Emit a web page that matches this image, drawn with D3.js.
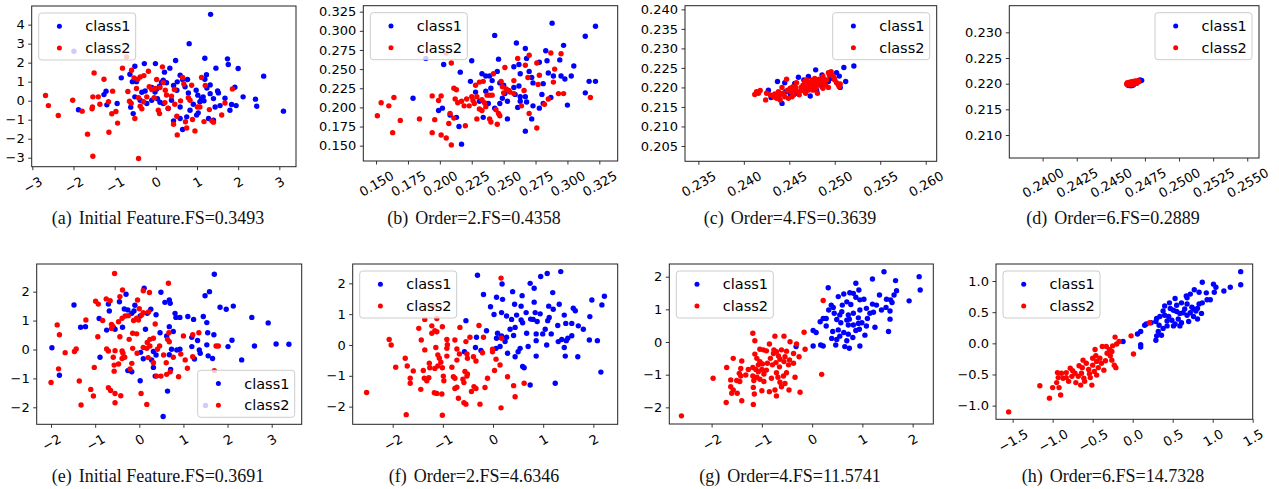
<!DOCTYPE html>
<html>
<head>
<meta charset="utf-8">
<script src="https://cdn.jsdelivr.net/npm/d3@7"></script>
<style>
  body { margin: 0; background: #fff; }
  svg { display: block; }
  .caption { font-family: "Liberation Serif", "DejaVu Serif", serif; font-size: 18px; fill: #111; }
  .legend text { font-family: "DejaVu Sans", sans-serif; font-size: 14.5px; fill: #000; }
</style>
</head>
<body>
<svg id="chart" width="1279" height="489"></svg>
<script>
// Valores leídos a ojo de la figura original (8 dispersiones, dos clases cada una).
const captions = [
  'Initial Feature.FS=0.3493', 'Order=2.FS=0.4358', 'Order=4.FS=0.3639', 'Order=6.FS=0.2889',
  'Initial Feature.FS=0.3691', 'Order=2.FS=4.6346', 'Order=4.FS=11.5741', 'Order=6.FS=14.7328'
];
const panelLetters = ['a', 'b', 'c', 'd', 'e', 'f', 'g', 'h'];
const legendLabels = ['class1', 'class2'];

// (a)
const aXDomain = [-3.016, 3.405];
const aYDomain = [-3.473, 4.98];
const aXTicks = [-3, -2, -1, 0, 1, 2, 3];
const aYTicks = [-3, -2, -1, 0, 1, 2, 3, 4];
const aClass1 = [[1.33,4.54],[0.81,3.0],[1.19,2.23],[1.74,2.2],[1.76,1.9],[2.0,1.69],[1.46,1.71],[0.48,2.11],[-0.28,1.95],[-0.01,1.95],[-0.51,1.81],[0.34,1.71],[2.62,1.29],[-0.84,1.2],[-0.63,1.39],[-0.57,1.0],[-0.47,1.0],[0.21,1.5],[0.59,1.34],[0.77,1.11],[1.23,1.36],[1.19,1.13],[1.32,0.83],[1.24,0.67],[1.5,0.51],[1.52,0.41],[1.92,0.71],[1.68,0.13],[2.12,0.2],[2.42,0.08],[2.45,-0.29],[3.1,-0.55],[-1.21,0.5],[-1.26,0.32],[-1.88,-0.48],[-0.94,-0.15],[-1.19,-0.22],[-0.61,-0.34],[-0.51,0.2],[-0.34,0.44],[-0.26,0.51],[-0.1,0.69],[-0.02,0.46],[0.02,0.62],[0.09,0.76],[0.14,0.97],[0.18,1.08],[0.26,0.94],[0.43,0.8],[0.52,0.99],[0.65,1.11],[0.04,0.1],[0.1,-0.08],[0.38,0.02],[0.51,0.55],[0.71,0.73],[0.79,0.41],[0.98,0.55],[1.02,0.29],[1.11,0.11],[1.07,-0.06],[1.17,-0.01],[0.91,-0.19],[0.83,-0.5],[1.03,-0.64],[0.99,-0.76],[0.43,-1.06],[0.59,-0.94],[0.75,-0.85],[0.65,-1.52],[1.4,-1.03],[1.28,-0.94],[1.44,-0.33],[1.56,-0.26],[1.8,-0.5],[1.84,-0.2],[1.95,-0.26],[1.4,0.11],[1.32,0.37],[1.15,0.2],[0.59,-0.33],[0.3,-0.41],[0.18,-0.15],[-0.1,0.02],[-0.22,-0.15],[-0.38,0.02],[-0.55,-0.68],[-1.99,2.6]];
const aClass2 = [[-2.68,0.27],[-2.61,-0.26],[-2.37,-0.78],[-2.02,0.02],[-1.79,-0.55],[-1.66,-1.76],[-1.53,-2.92],[-1.5,1.46],[-1.53,0.2],[-1.54,-0.33],[-1.55,-0.43],[-1.4,0.2],[-1.36,-0.19],[-1.26,1.13],[-1.15,-0.06],[-1.14,-1.66],[-1.07,-0.69],[-1.05,0.5],[-0.97,-0.57],[-0.93,-1.18],[-0.81,1.71],[-0.71,2.3],[-0.68,0.48],[-0.64,-0.03],[-0.6,-0.13],[-0.53,1.2],[-0.51,-0.94],[-0.47,0.64],[-0.44,1.13],[-0.42,-3.04],[-0.38,-0.29],[-0.34,-0.43],[-0.29,1.32],[-0.18,1.55],[-0.16,0.73],[-0.1,0.59],[-0.04,0.15],[0.02,1.11],[0.06,-0.5],[0.09,-0.68],[0.1,0.69],[0.16,1.78],[0.18,0.95],[0.22,-0.1],[0.26,0.3],[0.23,0.55],[0.3,-0.4],[0.38,0.24],[0.45,0.59],[0.46,-0.19],[0.51,-0.82],[0.52,-1.8],[0.43,-1.24],[0.6,-0.01],[0.65,1.22],[0.68,0.88],[0.72,-1.11],[0.75,-1.44],[0.79,0.16],[0.87,0.81],[0.89,-0.99],[0.95,-1.59],[1.01,-0.33],[1.11,1.22],[1.17,-1.1],[1.2,0.8],[1.3,-0.47],[1.36,-1.06],[1.4,-1.13],[1.6,-0.75],[1.68,-0.12],[1.86,0.62],[1.07,-0.33],[0.83,0.02],[-0.22,0.2],[-0.3,-0.06],[-0.42,0.16],[-0.38,1.25],[-0.59,1.6],[-0.02,0.64]];

// (b)
const bXDomain = [0.140, 0.3394];
const bYDomain = [0.130, 0.3328];
const bXTicks = [0.150, 0.175, 0.200, 0.225, 0.250, 0.275, 0.300, 0.325];
const bYTicks = [0.150, 0.175, 0.200, 0.225, 0.250, 0.275, 0.300, 0.325];
const bClass1 = [[0.288,0.310],[0.322,0.306],[0.243,0.294],[0.314,0.293],[0.260,0.284],[0.297,0.281],[0.267,0.277],[0.283,0.274],[0.189,0.264],[0.225,0.261],[0.246,0.263],[0.268,0.264],[0.284,0.261],[0.294,0.262],[0.203,0.256],[0.258,0.253],[0.262,0.256],[0.278,0.259],[0.305,0.254],[0.216,0.246],[0.245,0.247],[0.263,0.244],[0.270,0.247],[0.285,0.245],[0.289,0.241],[0.295,0.241],[0.298,0.237],[0.303,0.241],[0.224,0.234],[0.233,0.244],[0.236,0.241],[0.239,0.241],[0.241,0.235],[0.247,0.232],[0.250,0.229],[0.258,0.226],[0.262,0.228],[0.273,0.232],[0.281,0.231],[0.317,0.234],[0.322,0.234],[0.228,0.220],[0.236,0.221],[0.240,0.225],[0.251,0.218],[0.259,0.217],[0.267,0.214],[0.280,0.217],[0.287,0.213],[0.314,0.219],[0.231,0.208],[0.238,0.205],[0.247,0.205],[0.253,0.208],[0.263,0.208],[0.268,0.207],[0.273,0.202],[0.278,0.199],[0.281,0.205],[0.300,0.203],[0.199,0.196],[0.202,0.199],[0.208,0.190],[0.213,0.187],[0.234,0.187],[0.253,0.185],[0.272,0.185],[0.215,0.175],[0.267,0.169],[0.217,0.152],[0.179,0.212],[0.261,0.200],[0.249,0.212],[0.243,0.199],[0.272,0.239],[0.263,0.214]];
const bClass2 = [[0.151,0.189],[0.154,0.206],[0.160,0.202],[0.164,0.213],[0.163,0.167],[0.169,0.183],[0.184,0.185],[0.194,0.215],[0.194,0.167],[0.196,0.184],[0.199,0.209],[0.201,0.215],[0.201,0.164],[0.205,0.160],[0.205,0.271],[0.207,0.179],[0.208,0.192],[0.209,0.151],[0.209,0.258],[0.211,0.186],[0.211,0.225],[0.213,0.223],[0.212,0.211],[0.214,0.206],[0.217,0.208],[0.219,0.202],[0.220,0.176],[0.221,0.211],[0.223,0.202],[0.225,0.214],[0.226,0.209],[0.227,0.205],[0.228,0.229],[0.229,0.214],[0.229,0.185],[0.231,0.198],[0.231,0.233],[0.233,0.210],[0.233,0.196],[0.234,0.234],[0.235,0.206],[0.236,0.201],[0.237,0.216],[0.239,0.185],[0.239,0.216],[0.240,0.181],[0.241,0.216],[0.242,0.244],[0.244,0.197],[0.245,0.178],[0.246,0.192],[0.247,0.189],[0.248,0.234],[0.249,0.227],[0.250,0.219],[0.251,0.252],[0.252,0.224],[0.254,0.222],[0.255,0.220],[0.258,0.235],[0.258,0.218],[0.261,0.264],[0.264,0.202],[0.266,0.222],[0.267,0.255],[0.269,0.239],[0.270,0.268],[0.270,0.192],[0.276,0.258],[0.276,0.173],[0.277,0.230],[0.278,0.242],[0.282,0.204],[0.285,0.211],[0.287,0.271],[0.289,0.233],[0.290,0.250],[0.293,0.218],[0.295,0.270],[0.297,0.218],[0.318,0.213]];

// (c)
const cXDomain = [0.23353, 0.26121];
const cYDomain = [0.20107, 0.24094];
const cXTicks = [0.235, 0.240, 0.245, 0.250, 0.255, 0.260];
const cYTicks = [0.205, 0.210, 0.215, 0.220, 0.225, 0.230, 0.235, 0.240];
const cClass1 = [[0.2427,0.2193],[0.2430,0.2174],[0.2437,0.2215],[0.2442,0.2159],[0.2445,0.2212],[0.2446,0.2189],[0.2454,0.2200],[0.2460,0.2226],[0.2466,0.2219],[0.2471,0.2228],[0.2473,0.2178],[0.2479,0.2245],[0.2486,0.2232],[0.2489,0.2219],[0.2495,0.2223],[0.2502,0.2238],[0.2505,0.2229],[0.2506,0.2200],[0.2510,0.2251],[0.2512,0.2215],[0.2521,0.2255],[0.2451,0.2183],[0.2477,0.2206],[0.2480,0.2193],[0.2486,0.2202],[0.2493,0.2215],[0.2499,0.2223],[0.2456,0.2210],[0.2469,0.2206],[0.2484,0.2211],[0.2466,0.2193],[0.2458,0.2185]];
const cClass2 = [[0.2412,0.2182],[0.2414,0.2189],[0.2416,0.2185],[0.2418,0.2192],[0.2424,0.2168],[0.2425,0.2185],[0.2433,0.2176],[0.2434,0.2183],[0.2436,0.2172],[0.2439,0.2178],[0.2440,0.2168],[0.2442,0.2200],[0.2443,0.2185],[0.2445,0.2176],[0.2447,0.2221],[0.2448,0.2193],[0.2449,0.2172],[0.2451,0.2198],[0.2452,0.2189],[0.2454,0.2202],[0.2455,0.2181],[0.2456,0.2193],[0.2457,0.2200],[0.2458,0.2212],[0.2460,0.2189],[0.2461,0.2181],[0.2463,0.2200],[0.2464,0.2192],[0.2465,0.2206],[0.2467,0.2215],[0.2468,0.2185],[0.2469,0.2198],[0.2470,0.2206],[0.2471,0.2193],[0.2472,0.2212],[0.2474,0.2200],[0.2475,0.2219],[0.2476,0.2206],[0.2477,0.2212],[0.2478,0.2223],[0.2479,0.2198],[0.2480,0.2215],[0.2481,0.2185],[0.2482,0.2206],[0.2483,0.2221],[0.2485,0.2211],[0.2486,0.2218],[0.2487,0.2228],[0.2488,0.2215],[0.2490,0.2206],[0.2491,0.2219],[0.2493,0.2200],[0.2493,0.2238],[0.2494,0.2232],[0.2496,0.2240],[0.2497,0.2232],[0.2499,0.2226],[0.2500,0.2219],[0.2502,0.2212],[0.2504,0.2206],[0.2505,0.2202],[0.2506,0.2209],[0.2429,0.2181],[0.2438,0.2189],[0.2453,0.2176],[0.2469,0.2219],[0.2476,0.2193],[0.2487,0.2198]];

// (d)
const dXDomain = [0.23756, 0.25586];
const dYDomain = [0.20552, 0.23519];
const dXTicks = [0.2400, 0.2425, 0.2450, 0.2475, 0.2500, 0.2525, 0.2550];
const dYTicks = [0.210, 0.215, 0.220, 0.225, 0.230];
const dClass1 = [[0.24640,0.21961],[0.24714,0.22071],[0.24719,0.22058],[0.24709,0.22052],[0.24628,0.21967],[0.24653,0.21961],[0.24665,0.21974],[0.24689,0.22006],[0.24677,0.22026],[0.24726,0.22065],[0.24660,0.21987],[0.24700,0.22045],[0.24623,0.21980],[0.24705,0.22063],[0.24635,0.21970]];
const dClass2 = [[0.24616,0.21993],[0.24623,0.22006],[0.24628,0.21987],[0.24635,0.22013],[0.24640,0.21993],[0.24645,0.22019],[0.24650,0.22000],[0.24655,0.22026],[0.24660,0.22006],[0.24665,0.22032],[0.24670,0.22013],[0.24675,0.22039],[0.24679,0.22019],[0.24684,0.22045],[0.24689,0.22026],[0.24694,0.22045],[0.24699,0.22032],[0.24633,0.21974],[0.24653,0.21980],[0.24670,0.21993],[0.24687,0.22006],[0.24704,0.22039],[0.24621,0.22019],[0.24643,0.22032],[0.24662,0.22045],[0.24679,0.22052],[0.24702,0.22058]];

// (e)
const eXDomain = [-2.325, 3.680];
const eYDomain = [-2.588, 2.957];
const eXTicks = [-2, -1, 0, 1, 2, 3];
const eYTicks = [-2, -1, 0, 1, 2];
const eClass1 = [[1.70,2.60],[0.11,2.12],[0.49,1.98],[1.59,2.0],[1.49,1.86],[-1.48,1.54],[-0.30,1.91],[-0.45,1.65],[-0.70,1.57],[-0.68,1.33],[-0.34,1.40],[-0.26,1.37],[-0.17,1.25],[-0.12,1.33],[-0.10,1.53],[0.02,1.16],[0.18,1.25],[0.26,1.39],[0.38,1.20],[0.58,1.63],[0.68,1.71],[0.70,1.60],[0.81,1.25],[0.83,1.11],[0.92,1.11],[1.10,1.14],[1.23,1.04],[1.45,1.14],[1.53,0.93],[1.83,1.46],[1.97,1.39],[2.13,1.50],[2.55,1.11],[2.92,0.92],[-0.91,1.07],[-1.33,0.77],[-1.22,0.79],[-0.74,0.67],[-0.59,0.77],[-0.55,0.70],[-0.38,0.77],[0.14,0.70],[0.47,0.58],[0.62,0.47],[0.68,0.79],[0.77,0.62],[1.19,0.42],[1.32,0.31],[1.55,0.58],[1.69,0.51],[2.10,0.32],[1.53,0.16],[2.01,0.10],[2.61,0.12],[3.10,0.19],[3.39,0.18],[-1.98,0.06],[-0.89,-0.27],[0.03,-0.10],[0.09,-0.32],[0.32,-0.07],[0.38,-0.19],[0.68,-0.18],[0.73,0.01],[0.85,-0.02],[0.92,0.01],[1.19,0.10],[1.36,-0.02],[1.38,-0.13],[1.25,-0.33],[1.56,-0.22],[1.66,-0.31],[2.32,-0.36],[0.28,-0.36],[0.32,-0.62],[-0.26,-0.73],[-0.17,-0.77],[0.71,-0.69],[-1.81,-0.89],[0.02,-1.08],[0.36,-0.92],[0.64,-1.44],[0.54,-2.32],[1.50,-1.94]];
const eClass2 = [[-0.56,2.63],[0.66,2.29],[-0.38,2.06],[0.09,2.03],[0.23,1.97],[-0.99,1.67],[-0.93,1.57],[-0.75,1.75],[-0.66,1.69],[-0.44,1.83],[-0.04,1.71],[0.0,1.41],[0.05,1.19],[0.09,1.27],[0.21,1.30],[-0.47,0.96],[-0.39,1.08],[-0.32,1.16],[-0.25,1.17],[-0.13,1.0],[-0.06,1.08],[-0.02,1.02],[-0.83,1.0],[-1.21,1.02],[-1.86,0.85],[-1.81,0.51],[-0.63,0.87],[-0.61,0.81],[-0.63,0.73],[-0.15,0.56],[-0.06,0.54],[0.36,0.88],[0.67,0.58],[-0.94,0.44],[-0.44,0.44],[-0.23,0.35],[0.18,0.24],[0.24,0.35],[0.32,0.39],[1.0,0.47],[1.21,0.51],[1.35,0.58],[0.64,0.35],[0.68,0.27],[-1.43,0.02],[-1.47,-0.07],[-1.68,-0.11],[-0.74,0.02],[-0.70,-0.05],[-0.55,-0.04],[-0.39,-0.05],[-0.37,-0.13],[-0.33,-0.27],[-0.39,-0.31],[-0.15,0.04],[0.09,0.07],[0.17,0.04],[0.24,0.12],[0.41,0.01],[0.46,0.12],[0.55,-0.19],[0.77,-0.27],[0.94,-0.16],[1.04,-0.36],[1.21,-0.25],[1.74,0.12],[1.79,0.12],[-0.59,-0.27],[-0.57,-0.54],[-0.47,-0.50],[-0.21,-0.67],[-0.17,-0.48],[-0.05,-0.13],[0.20,-0.28],[0.32,-0.46],[0.61,-0.46],[0.70,-0.77],[1.09,-0.65],[-1.83,-0.67],[-1.02,-0.62],[-0.57,-0.75],[0.39,-0.92],[0.49,-0.92],[0.62,-0.86],[0.89,-0.94],[-2.0,-1.14],[-1.36,-1.09],[-1.10,-1.38],[-1.04,-1.61],[-0.70,-1.32],[-0.65,-1.42],[-0.55,-1.52],[-0.42,-1.60],[0.04,-1.52],[-1.32,-1.92],[-0.55,-1.84],[0.17,-1.90],[1.70,-0.73]];

// (f)
const fXDomain = [-2.797, 2.485];
const fYDomain = [-2.573, 2.627];
const fXTicks = [-2, -1, 0, 1, 2];
const fYTicks = [-2, -1, 0, 1, 2];
const fClass1 = [[-0.31,2.26],[1.08,2.32],[1.35,2.38],[0.95,2.22],[0.74,2.0],[0.18,1.98],[0.82,1.84],[0.39,1.73],[1.19,1.70],[-0.19,1.64],[0.07,1.55],[0.19,1.48],[0.58,1.60],[2.22,1.58],[1.97,1.46],[0.82,1.39],[0.43,1.32],[0.56,1.26],[1.11,1.26],[1.32,1.32],[1.60,1.19],[1.64,1.11],[2.17,1.30],[-0.05,1.24],[0.02,0.99],[0.17,1.05],[0.27,0.94],[0.66,1.05],[0.84,1.05],[0.94,1.01],[0.37,0.83],[0.47,0.97],[0.56,0.81],[0.59,0.72],[0.75,0.84],[0.80,0.83],[0.88,0.76],[1.12,0.89],[1.09,0.79],[1.29,0.63],[1.42,0.97],[1.45,0.70],[1.57,0.70],[1.70,0.62],[1.80,0.51],[1.93,0.92],[-0.54,0.79],[-0.13,0.46],[0.09,0.38],[0.17,0.29],[0.34,0.51],[0.44,0.57],[0.41,0.31],[0.67,0.38],[0.86,0.36],[0.99,0.36],[1.04,0.51],[1.16,0.36],[1.30,0.11],[1.37,0.18],[1.46,0.14],[1.49,0.22],[1.57,0.30],[1.92,0.16],[2.08,0.14],[-0.33,0.25],[0.07,0.22],[0.27,0.25],[0.24,0.11],[0.86,0.14],[1.07,0.0],[0.14,-0.05],[0.06,-0.11],[0.54,-0.11],[0.70,-0.05],[-0.35,-0.08],[1.42,-0.08],[-0.24,-0.18],[-0.57,-0.22],[0.50,-0.22],[0.29,-0.27],[0.44,-0.38],[0.86,-0.36],[1.44,-0.36],[1.69,-0.38],[0.59,-0.70],[0.62,-0.74],[2.15,-0.88],[0.74,-1.30],[1.24,-1.24],[1.20,1.16]];
const fClass2 = [[0.16,2.17],[-1.20,1.24],[-1.36,0.83],[-1.12,0.86],[-1.48,0.54],[-1.22,0.62],[-1.16,0.46],[-1.12,0.43],[-1.22,0.38],[-1.01,0.59],[-0.66,0.57],[-0.28,0.63],[-0.46,0.25],[-0.19,0.25],[-2.07,0.18],[-2.03,0.0],[-0.92,0.18],[-0.91,0.01],[-0.76,0.16],[-0.54,0.11],[-0.92,-0.11],[-1.14,-0.08],[-1.36,-0.16],[-0.72,-0.13],[-0.67,-0.29],[-0.52,-0.29],[-0.39,-0.38],[-0.51,-0.43],[-0.34,-0.52],[-0.21,-0.25],[-0.01,-0.14],[-0.01,-0.22],[0.06,-0.46],[0.17,0.22],[-1.10,-0.32],[-1.07,-0.43],[-1.04,-0.56],[-1.10,-0.68],[-1.01,-0.74],[-1.16,-0.76],[-1.26,-0.74],[-1.27,-0.59],[-1.39,-0.83],[-1.94,-0.72],[-1.75,-0.43],[-1.71,-0.68],[-1.59,-0.84],[-1.65,-1.08],[-1.65,-1.24],[-1.44,-1.44],[-1.37,-1.08],[-1.32,-1.16],[-1.28,-1.06],[-0.99,-1.01],[-0.98,-1.16],[-0.79,-1.03],[-0.76,-1.08],[-0.72,-1.37],[-0.76,-1.41],[-0.69,-1.73],[-0.60,-1.11],[-0.56,-0.86],[-0.52,-1.01],[-0.58,-1.22],[-0.51,-0.94],[-0.38,-1.35],[-0.34,-1.41],[-0.43,-1.51],[-0.16,-1.38],[0.03,-0.83],[-0.11,-1.08],[0.14,-0.65],[0.29,-1.03],[0.41,-1.32],[0.44,-1.68],[0.62,-1.24],[-2.52,-1.54],[-1.17,-1.55],[-1.12,-1.57],[-1.02,-1.59],[-0.58,-1.87],[-0.54,-1.92],[-0.26,-1.92],[0.16,-2.04],[-1.73,-2.26],[-1.01,-2.28],[-1.43,0.16],[-0.82,-0.72],[-0.92,-0.36],[-0.72,-0.49]];

// (g)
const gXDomain = [-2.842, 2.411];
const gYDomain = [-2.510, 2.388];
const gXTicks = [-2, -1, 0, 1, 2];
const gYTicks = [-2, -1, 0, 1, 2];
const gClass1 = [[1.43,2.15],[2.13,2.0],[2.15,1.59],[1.20,1.93],[1.66,1.88],[0.87,1.80],[0.32,1.66],[0.93,1.59],[0.63,1.47],[0.75,1.51],[0.82,1.49],[1.68,1.57],[1.63,1.44],[1.34,1.44],[0.52,1.39],[0.87,1.37],[1.03,1.31],[1.48,1.31],[1.56,1.29],[1.59,1.21],[1.93,1.26],[0.69,1.23],[0.95,1.29],[0.38,1.13],[0.42,1.06],[0.60,1.13],[0.77,1.15],[1.20,1.16],[1.28,1.13],[1.47,1.06],[1.08,1.03],[0.95,0.98],[1.38,0.98],[1.55,0.95],[0.33,0.98],[0.44,0.88],[0.55,0.83],[0.59,0.93],[0.72,0.83],[0.82,0.88],[1.15,0.88],[1.22,0.91],[0.92,0.74],[0.22,0.72],[0.28,0.72],[0.49,0.69],[0.69,0.67],[0.74,0.70],[1.10,0.72],[1.55,0.70],[0.16,0.62],[0.28,0.49],[0.57,0.59],[0.72,0.52],[0.92,0.57],[0.99,0.59],[1.08,0.49],[1.25,0.45],[0.02,0.35],[0.08,0.29],[0.41,0.32],[0.87,0.35],[0.94,0.39],[1.52,0.32],[0.63,0.29],[0.72,0.24],[0.55,0.18],[0.81,0.14],[1.05,0.21],[0.39,0.11],[0.49,0.08],[0.69,0.04],[0.02,-0.12],[0.17,-0.09],[0.22,-0.12],[0.47,-0.09],[0.65,-0.14],[0.74,-0.19],[0.95,-0.12],[-0.32,-0.14],[0.52,0.37],[0.82,0.52]];
const gClass2 = [[0.22,1.27],[-0.16,0.30],[-1.18,0.27],[-0.74,0.18],[-0.56,0.18],[-1.14,0.04],[-0.44,0.01],[-0.14,-0.22],[-0.31,-0.06],[-0.85,-0.06],[-1.04,-0.22],[-0.97,-0.24],[-0.91,-0.27],[-0.76,-0.24],[-0.71,-0.30],[-0.61,-0.24],[-0.51,-0.28],[-0.37,-0.35],[-0.26,-0.45],[-0.45,-0.55],[-0.54,-0.45],[-0.56,-0.60],[-0.64,-0.53],[-0.72,-0.63],[-0.83,-0.50],[-0.89,-0.65],[-0.79,-0.70],[-0.65,-0.76],[-0.47,-0.70],[-0.37,-0.65],[-1.14,-0.37],[-1.10,-0.50],[-1.07,-0.70],[-1.04,-0.60],[-0.99,-0.67],[-1.57,-0.50],[-1.40,-0.58],[-1.70,-0.78],[-1.42,-0.81],[-1.27,-0.84],[-1.18,-0.78],[-1.12,-0.84],[-1.07,-0.91],[-1.00,-0.84],[-0.96,-0.98],[-0.91,-0.86],[-0.71,-0.94],[-0.57,-1.04],[-0.51,-0.94],[-0.34,-1.08],[0.19,-0.99],[-1.45,-0.96],[-1.42,-1.04],[-1.32,-1.01],[-1.18,-1.04],[-1.10,-1.08],[-1.97,-1.11],[-1.62,-1.16],[-1.50,-1.18],[-1.44,-1.21],[-1.16,-1.18],[-1.04,-1.14],[-0.96,-1.21],[-0.81,-1.11],[-0.68,-1.08],[-0.64,-1.23],[-0.54,-1.27],[-1.62,-1.37],[-1.57,-1.47],[-1.60,-1.57],[-1.49,-1.57],[-1.40,-1.80],[-1.17,-1.39],[-1.15,-1.59],[-1.00,-1.49],[-0.85,-1.52],[-0.74,-1.47],[-0.71,-1.65],[-0.61,-1.37],[-0.46,-1.47],[-0.24,-1.54],[-1.71,-1.85],[-1.17,-1.91],[-2.60,-2.26],[-0.77,-0.35],[-0.67,-0.43]];

// (h)
const hXDomain = [-1.708, 1.5];
const hYDomain = [-1.219, 1.273];
const hXTicks = [-1.5, -1.0, -0.5, 0.0, 0.5, 1.0, 1.5];
const hYTicks = [-1.0, -0.5, 0.0, 0.5, 1.0];
const hClass1 = [[1.35,1.15],[1.35,0.94],[0.87,0.98],[1.22,0.90],[1.14,0.84],[1.01,0.95],[1.04,0.90],[1.02,0.82],[0.92,0.81],[0.83,0.82],[0.77,0.86],[0.72,0.79],[0.68,0.73],[0.67,0.76],[0.93,0.70],[0.87,0.65],[0.83,0.63],[0.81,0.56],[0.79,0.52],[0.74,0.58],[0.68,0.63],[0.61,0.65],[0.53,0.72],[0.46,0.65],[0.40,0.60],[0.38,0.52],[0.47,0.56],[0.51,0.53],[0.55,0.51],[0.59,0.48],[0.63,0.49],[0.68,0.45],[0.72,0.49],[0.76,0.55],[0.81,0.39],[0.70,0.35],[0.61,0.33],[0.59,0.28],[0.53,0.31],[0.49,0.37],[0.45,0.43],[0.40,0.45],[0.34,0.43],[0.30,0.40],[0.29,0.35],[0.33,0.29],[0.38,0.24],[0.32,0.19],[0.30,0.12],[0.29,0.05],[0.36,0.13],[0.43,0.28],[0.51,0.28],[0.57,0.39],[0.17,0.31],[0.15,0.29],[0.23,0.33],[0.10,0.19],[0.06,0.15],[0.10,-0.02],[0.10,-0.06],[-0.12,0.03],[0.76,0.43],[0.86,0.48],[0.97,0.70],[0.55,0.61],[0.65,0.55],[0.43,0.36]];
const hClass2 = [[-1.55,-1.10],[-1.04,-0.88],[-1.16,-0.68],[-1.00,-0.71],[-0.92,-0.71],[-0.90,-0.83],[-0.95,-0.63],[-0.93,-0.55],[-0.94,-0.47],[-0.89,-0.48],[-0.83,-0.47],[-0.87,-0.56],[-0.80,-0.61],[-0.76,-0.53],[-0.75,-0.44],[-0.72,-0.48],[-0.71,-0.63],[-0.68,-0.53],[-0.65,-0.67],[-0.64,-0.48],[-0.63,-0.39],[-0.61,-0.56],[-0.58,-0.32],[-0.55,-0.42],[-0.54,-0.49],[-0.53,-0.55],[-0.51,-0.67],[-0.50,-0.24],[-0.50,-0.35],[-0.48,-0.45],[-0.46,-0.20],[-0.45,-0.29],[-0.43,-0.39],[-0.41,-0.24],[-0.39,-0.32],[-0.38,-0.05],[-0.36,-0.43],[-0.34,-0.28],[-0.33,-0.05],[-0.32,-0.16],[-0.29,-0.10],[-0.28,-0.20],[-0.26,-0.27],[-0.25,-0.04],[-0.23,-0.35],[-0.22,0.10],[-0.21,-0.39],[-0.20,-0.01],[-0.17,0.03],[-0.02,0.12],[0.01,-0.17],[0.21,0.33],[-0.67,-0.36],[-0.60,-0.61],[-0.45,-0.51],[-0.83,-0.55],[-0.78,-0.40],[-0.26,-0.13],[-0.47,-0.10],[-0.62,-0.27]];

// Geometría de cada subfigura (marco del eje en píxeles) y montaje de la tabla.
const layout = [
  { frame: [31.7, 6, 296, 166.7], legend: 'upper left', captionX: 158, captionY: 224 },
  { frame: [363.3, 5.7, 617.7, 161], legend: 'upper left', captionX: 474, captionY: 224 },
  { frame: [685, 5.7, 936.7, 161.3], legend: 'upper right', captionX: 790, captionY: 224 },
  { frame: [1009.3, 5.7, 1259, 158], legend: 'upper right', captionX: 1113, captionY: 224 },
  { frame: [36.7, 264, 301.7, 424.3], legend: 'lower right', captionX: 158, captionY: 482 },
  { frame: [352.7, 264, 617.7, 424.3], legend: 'upper left', captionX: 474, captionY: 482 },
  { frame: [669.3, 264, 933.3, 424], legend: 'upper left', captionX: 790, captionY: 482 },
  { frame: [996, 264, 1252.7, 419.3], legend: 'upper left', captionX: 1113, captionY: 482 }
];
const panelData = [
  [aXDomain, aYDomain, aXTicks, aYTicks, 'd', 'd', aClass1, aClass2],
  [bXDomain, bYDomain, bXTicks, bYTicks, '.3f', '.3f', bClass1, bClass2],
  [cXDomain, cYDomain, cXTicks, cYTicks, '.3f', '.3f', cClass1, cClass2],
  [dXDomain, dYDomain, dXTicks, dYTicks, '.4f', '.3f', dClass1, dClass2],
  [eXDomain, eYDomain, eXTicks, eYTicks, 'd', 'd', eClass1, eClass2],
  [fXDomain, fYDomain, fXTicks, fYTicks, 'd', 'd', fClass1, fClass2],
  [gXDomain, gYDomain, gXTicks, gYTicks, 'd', 'd', gClass1, gClass2],
  [hXDomain, hYDomain, hXTicks, hYTicks, '.1f', '.1f', hClass1, hClass2]
];
const colors = ['#0000ff', '#ff0000'];

const svg = d3.select('#chart');

function drawPanel(i) {
  const [xDomain, yDomain, xTicks, yTicks, xFmt, yFmt, class1, class2] = panelData[i];
  const { frame, legend, captionX, captionY } = layout[i];
  const [left, top, right, bottom] = frame;
  const x = d3.scaleLinear().domain(xDomain).range([left, right]);
  const y = d3.scaleLinear().domain(yDomain).range([bottom, top]);
  const g = svg.append('g');

  const xAxisG = g.append('g')
    .attr('transform', `translate(0,${bottom})`)
    .call(d3.axisBottom(x).tickValues(xTicks).tickFormat(d3.format(xFmt)).tickSize(3.5).tickPadding(0))
    .attr('font-family', '"DejaVu Sans", sans-serif')
    .attr('font-size', 13);
  xAxisG.select('.domain').remove();
  xAxisG.selectAll('.tick line').attr('stroke', '#000').attr('stroke-width', 0.8);
  // Etiquetas giradas 30°, centradas bajo la marca como en matplotlib.
  xAxisG.selectAll('.tick text').each(function () {
    const w = this.getComputedTextLength();
    const bh = w * 0.5 + 15 * 0.866;
    d3.select(this)
      .attr('y', null).attr('dy', null)
      .attr('fill', '#000')
      .attr('text-anchor', 'middle')
      .attr('dominant-baseline', 'central')
      .attr('transform', `translate(0,${7 + bh / 2}) rotate(-30)`);
  });

  const yAxisG = g.append('g')
    .attr('transform', `translate(${left},0)`)
    .call(d3.axisLeft(y).tickValues(yTicks).tickFormat(d3.format(yFmt)).tickSize(3.5).tickPadding(3.5))
    .attr('font-family', '"DejaVu Sans", sans-serif')
    .attr('font-size', 13);
  yAxisG.select('.domain').remove();
  yAxisG.selectAll('.tick line').attr('stroke', '#000').attr('stroke-width', 0.8);
  yAxisG.selectAll('.tick text').attr('fill', '#000');

  [class1, class2].forEach((series, k) => {
    g.append('g')
      .selectAll('circle')
      .data(series)
      .join('circle')
      .attr('cx', (d) => x(d[0]))
      .attr('cy', (d) => y(d[1]))
      .attr('r', 2.7)
      .attr('fill', colors[k]);
  });

  g.append('rect')
    .attr('x', left).attr('y', top)
    .attr('width', right - left).attr('height', bottom - top)
    .attr('fill', 'none').attr('stroke', '#222').attr('stroke-width', 1);

  const lw = 97, lh = 47, pad = 7;
  const lx = legend.includes('left') ? left + pad : right - pad - lw;
  const ly = legend.includes('upper') ? top + pad : bottom - pad - lh;
  const lg = g.append('g').attr('class', 'legend').attr('transform', `translate(${lx},${ly})`);
  lg.append('rect')
    .attr('width', lw).attr('height', lh).attr('rx', 3)
    .attr('fill', '#fff').attr('fill-opacity', 0.8)
    .attr('stroke', '#cccccc').attr('stroke-width', 1);
  const rows = lg.selectAll('g.row').data(legendLabels).join('g').attr('class', 'row')
    .attr('transform', (d, k) => `translate(0,${13.3 + k * 21.7})`);
  rows.append('circle').attr('cx', 20.7).attr('r', 2.5).attr('fill', (d, k) => colors[k]);
  rows.append('text').attr('x', 46.5).attr('dominant-baseline', 'central').text((d) => d);

  const cap = svg.append('text').attr('class', 'caption')
    .attr('x', captionX).attr('y', captionY).attr('text-anchor', 'middle');
  cap.append('tspan').text(`(${panelLetters[i]})`);
  cap.append('tspan').attr('dx', 7).text(captions[i]);
}

d3.range(panelData.length).forEach(drawPanel);
</script>
</body>
</html>
